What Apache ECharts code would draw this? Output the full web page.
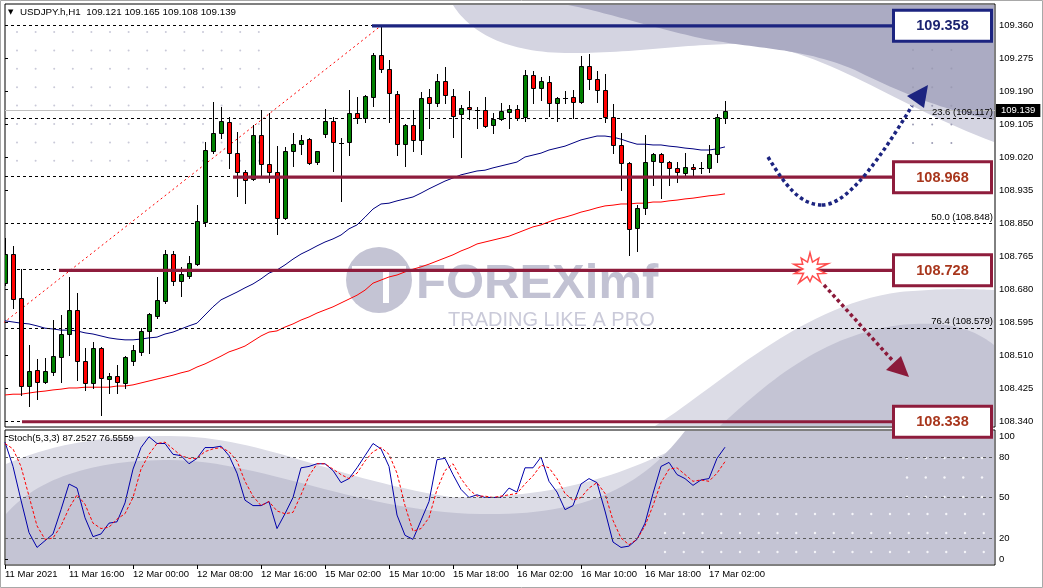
<!DOCTYPE html>
<html>
<head>
<meta charset="utf-8">
<script src="https://cdn.jsdelivr.net/npm/echarts@6.0.0/dist/echarts.min.js"></script>
<style>
html,body{margin:0;padding:0;background:#fff;overflow:hidden}
#chart{width:1043px;height:588px}
</style>
</head>
<body>
<div id="chart"></div>
<script>
// ---------------- DATA ----------------
const headerSymbol = 'USDJPY.h,H1';
const headerOHLC = [109.121, 109.165, 109.108, 109.139];
const timeLabels = ['11 Mar 2021','11 Mar 16:00','12 Mar 00:00','12 Mar 08:00','12 Mar 16:00','15 Mar 02:00','15 Mar 10:00','15 Mar 18:00','16 Mar 02:00','16 Mar 10:00','16 Mar 18:00','17 Mar 02:00'];
const barsPerLabel = 8;

const opens = [108.695,108.770,108.657,108.430,108.471,108.440,108.466,108.505,108.564,108.626,
108.494,108.438,108.528,108.448,108.456,108.438,108.494,108.518,108.572,108.610,
108.649,108.770,108.701,108.713,108.744,108.853,109.035,109.082,109.110,109.030,
108.981,108.963,109.077,109.002,108.981,108.863,109.035,109.053,109.066,109.007,
109.079,109.113,109.056,109.059,109.133,109.120,109.175,109.283,109.247,109.182,
109.053,109.102,109.064,109.175,109.159,109.216,109.177,109.131,109.149,109.141,
109.141,109.102,109.118,109.136,109.144,109.123,109.231,109.198,109.213,109.159,
109.172,109.175,109.162,109.254,109.221,109.193,109.123,109.051,109.005,108.837,
108.889,109.010,109.028,109.007,108.992,108.979,108.994,108.992,108.992,109.028,
109.121];
const highs = [108.811,108.791,108.731,108.536,108.500,108.502,108.600,108.613,108.711,108.670,
108.528,108.543,108.530,108.464,108.484,108.507,108.536,108.580,108.618,108.711,
108.780,108.778,108.737,108.765,108.896,109.059,109.162,109.149,109.123,109.084,
108.987,109.102,109.141,109.133,109.048,109.046,109.082,109.077,109.068,109.036,
109.144,109.123,109.069,109.193,109.175,109.180,109.288,109.358,109.270,109.190,
109.104,109.141,109.187,109.195,109.234,109.252,109.195,109.154,109.190,109.149,
109.175,109.133,109.159,109.154,109.154,109.244,109.242,109.226,109.229,109.175,
109.190,109.193,109.280,109.285,109.242,109.234,109.157,109.082,109.007,108.896,
109.077,109.030,109.030,109.010,109.007,109.030,109.002,109.007,109.051,109.131,
109.165];
const lows = [108.690,108.631,108.407,108.379,108.397,108.438,108.458,108.440,108.510,108.446,
108.420,108.425,108.355,108.412,108.412,108.425,108.484,108.510,108.515,108.605,
108.644,108.690,108.662,108.708,108.742,108.842,109.030,109.069,108.992,108.920,
108.902,108.961,108.968,108.956,108.822,108.860,108.997,109.028,109.003,109.002,
109.071,108.984,108.907,109.025,109.108,109.110,109.151,109.239,109.110,109.025,
108.997,109.035,109.028,109.095,109.151,109.159,109.071,109.020,109.118,109.095,
109.097,109.082,109.116,109.095,109.115,109.113,109.159,109.167,109.126,109.113,
109.159,109.120,109.159,109.195,109.162,109.110,109.030,108.935,108.768,108.778,
108.873,108.948,108.914,108.948,108.956,108.968,108.968,108.979,108.981,109.007,
109.108];
const closes = [108.770,108.654,108.430,108.469,108.440,108.469,108.507,108.564,108.626,108.494,
108.438,108.528,108.451,108.456,108.440,108.505,108.523,108.572,108.616,108.652,
108.770,108.701,108.719,108.747,108.855,109.038,109.082,109.113,109.030,108.981,
108.961,109.077,109.002,108.981,108.863,109.035,109.053,109.064,109.005,109.035,
109.113,109.059,109.056,109.133,109.120,109.177,109.283,109.247,109.185,109.053,
109.102,109.064,109.172,109.159,109.216,109.180,109.126,109.146,109.144,109.141,
109.100,109.118,109.139,109.144,109.120,109.231,109.198,109.216,109.159,109.172,
109.172,109.162,109.254,109.221,109.193,109.123,109.051,109.005,108.835,108.889,
109.007,109.028,109.007,108.992,108.981,108.994,108.989,108.992,109.028,109.123,
109.139];
const maBlue = [108.598,108.595,108.592,108.590,108.585,108.579,108.577,108.574,108.574,108.572,
108.567,108.564,108.559,108.554,108.551,108.549,108.549,108.551,108.554,108.556,
108.564,108.569,108.577,108.585,108.592,108.613,108.634,108.652,108.662,108.672,
108.683,108.693,108.706,108.721,108.729,108.742,108.757,108.770,108.780,108.791,
108.801,108.809,108.819,108.835,108.845,108.865,108.886,108.899,108.901,108.907,
108.912,108.917,108.927,108.938,108.948,108.958,108.966,108.974,108.979,108.984,
108.986,108.992,108.997,109.002,109.007,109.020,109.025,109.030,109.038,109.043,
109.048,109.056,109.064,109.069,109.074,109.074,109.071,109.066,109.059,109.053,
109.053,109.051,109.051,109.048,109.046,109.043,109.041,109.038,109.038,109.041,
109.046];
const maRed = [108.407,108.409,108.409,108.412,108.415,108.417,108.420,108.422,108.425,108.425,
108.427,108.427,108.427,108.427,108.430,108.430,108.433,108.438,108.443,108.448,
108.453,108.458,108.464,108.469,108.479,108.487,108.497,108.507,108.518,108.525,
108.533,108.546,108.559,108.569,108.572,108.582,108.590,108.600,108.608,108.618,
108.626,108.634,108.644,108.654,108.664,108.677,108.695,108.703,108.711,108.716,
108.724,108.731,108.737,108.744,108.752,108.760,108.768,108.778,108.786,108.796,
108.801,108.806,108.811,108.816,108.824,108.832,108.840,108.845,108.853,108.860,
108.865,108.871,108.878,108.883,108.889,108.894,108.896,108.899,108.899,108.901,
108.901,108.904,108.904,108.907,108.909,108.912,108.914,108.917,108.920,108.922,
108.925];
const stochK = [91,73,48,24,13,18,23,41,60,57, 35,21,23,31,32,46,71,87,95,90,
90,82,81,75,79,87,87,88,81,68, 48,44,44,47,27,38,50,72,73,75,
75,70,61,64,72,81,90,86,73,37, 22,19,33,47,78,79,67,56,50,52,
50,50,50,57,54,72,72,80,62,54, 41,44,60,64,61,40,17,13,14,19,
31,53,73,76,67,64,59,63,64,79, 87.25];
const stochD = [90,86,73,51,29,19,20,29,42,52, 45,31,27,28,34,38,50,71,82,90,
91,86,81,79,79,84,86,87,84,77, 62,51,44,47,40,38,39,52,66,75,
75,71,67,64,68,77,84,87,82,68, 44,25,27,35,56,70,75,64,56,51,
51,50,51,52,53,60,66,74,72,64, 53,48,50,57,61,53,33,20,15,19,
29,44,61,71,72,67,62,63,62,68, 76.56];
const stochTitle = 'Stoch(5,3,3)';
const stochLast = [87.2527, 76.5559];
const stochLevels = [20, 50, 80];
const stochTickValues = [4.4, 20, 50, 80, 95.6];
const stochTickLabels = ['0','20','50','80','100'];

const priceTicks = [108.340,108.425,108.510,108.595,108.680,108.765,108.850,108.935,109.020,109.105,109.190,109.275,109.360];
const fibPct = ['0.0','23.6','38.2','50.0','61.8','76.4','100.0'];
const fibPrice = [108.338,109.117,108.968,108.848,108.728,108.579,109.358];
const fibTrendIdx = [-15.9, 47];
const fibTrendPrice = [108.338, 109.358];
const bidPrice = 109.139;
const levelPrice = [109.358, 108.968, 108.728, 108.338];
const levelStartIdx = [45.875, 28.5, 6.75, 2.125];
const levelEndIdx = 110.875;

// ---------------- STYLE ----------------
const FONT = 'Liberation Sans';
const X_MAX = 123.75;
const NAVY = '#1c2480';
const MAROON = '#8e1c3c';
const levelColor = [NAVY, MAROON, MAROON, MAROON];
const levelText = ['#1c2470', '#a8361c', '#a8361c', '#a8361c'];

const chart = echarts.init(document.getElementById('chart'), null, {renderer:'canvas'});

function renderCandle(params, api) {
  const i = api.value(0);
  const o = api.coord([i, api.value(1)]);
  const c = api.coord([i, api.value(2)]);
  const l = api.coord([i, api.value(3)]);
  const h = api.coord([i, api.value(4)]);
  const cx = Math.round(o[0]);
  const yTop = Math.round(Math.min(o[1], c[1]));
  const yBot = Math.round(Math.max(o[1], c[1]));
  const up = api.value(2) >= api.value(1);
  const children = [{type:'line', shape:{x1:cx+0.5, y1:Math.round(h[1]), x2:cx+0.5, y2:Math.round(l[1])+1}, style:{stroke:'#000', lineWidth:1}}];
  if (yBot - yTop < 1) {
    children.push({type:'line', shape:{x1:cx-2, y1:yTop+0.5, x2:cx+3, y2:yTop+0.5}, style:{stroke:'#000', lineWidth:1}});
  } else {
    children.push({type:'rect', shape:{x:cx-1.5, y:yTop+0.5, width:4, height:yBot-yTop}, style:{fill: up ? '#008000' : '#ff0000', stroke:'#000', lineWidth:1}});
  }
  return {type:'group', children};
}

function lineSeries(xi, yi, data, color, width, type, z, extra) {
  return Object.assign({
    type:'line', xAxisIndex:xi, yAxisIndex:yi, data, symbol:'none', showSymbol:false,
    lineStyle:{color, width, type}, itemStyle:{color}, z, silent:true, clip:true,
    emphasis:{disabled:true}
  }, extra || {});
}

const candleData = opens.map((o, i) => [i, o, closes[i], lows[i], highs[i]]);
const tickIdx = timeLabels.map((_, k) => k * barsPerLabel);

const fibMarks = fibPrice.map((p, i) => ({
  yAxis: p,
  lineStyle: {color:'#000', type:[3,3], width:1},
  label: {show:true, position:'insideEndTop', formatter: fibPct[i] + ' (' + p.toFixed(3) + ')',
          color:'#000', fontSize:9.5, fontFamily:FONT, distance:[2,1]}
}));
const bidMark = {
  yAxis: bidPrice,
  lineStyle: {color:'#c0c0c0', type:'solid', width:1},
  label: {show:true, position:'end', formatter: bidPrice.toFixed(3), color:'#fff', backgroundColor:'#000',
          padding:[2,5,1,5], fontSize:9.5, fontFamily:FONT, distance:1}
};

const series = [
  lineSeries(0, 0, maRed.map((v, i) => [i, v]), '#ff0000', 1, 'solid', 3,
    {markLine:{silent:true, symbol:['none','none'], animation:false, data:[bidMark]}}),
  lineSeries(0, 0, maBlue.map((v, i) => [i, v]), '#000080', 1, 'solid', 3,
    {markLine:{silent:true, symbol:['none','none'], animation:false, data:fibMarks}}),
  lineSeries(0, 0, fibTrendIdx.map((x, k) => [x, fibTrendPrice[k]]), '#ff0000', 1, [2,3], 3),
  {type:'custom', xAxisIndex:0, yAxisIndex:0, data:candleData, encode:{x:0, y:[1,2,3,4]},
   renderItem:renderCandle, clip:true, z:5, silent:true},
];
levelPrice.forEach((p, k) => {
  series.push(lineSeries(0, 0, [[levelStartIdx[k], p], [levelEndIdx, p]], levelColor[k], 3.2, 'solid', 6));
});
series.push(lineSeries(1, 1, stochK.map((v, i) => [i, v]), '#0000aa', 1, 'solid', 4,
  {markLine:{silent:true, symbol:['none','none'], animation:false, label:{show:false},
    lineStyle:{color:'#5a5a5a', type:[3,3], width:1}, data: stochLevels.map(v => ({yAxis:v}))}}));
series.push(lineSeries(1, 1, stochD.map((v, i) => [i, v]), '#ff0000', 1, [3,2], 4));

const option = {
  backgroundColor:'#ffffff',
  animation:false,
  textStyle:{fontFamily:FONT},
  grid:[
    {left:5, top:4, width:990, height:423, show:true, borderColor:'#000', borderWidth:1},
    {left:5, top:430, width:990, height:135, show:true, borderColor:'#000', borderWidth:1}
  ],
  xAxis:[
    {type:'value', gridIndex:0, min:0, max:X_MAX, show:false},
    {type:'value', gridIndex:1, min:0, max:X_MAX, axisLine:{show:false}, splitLine:{show:false},
     axisTick:{show:true, customValues:tickIdx, length:4, lineStyle:{color:'#000'}},
     axisLabel:{customValues:tickIdx, formatter:v => timeLabels[Math.round(v / barsPerLabel)] || '',
                align:'left', margin:4, fontSize:9.5, color:'#000', fontFamily:FONT}}
  ],
  yAxis:[
    {type:'value', gridIndex:0, position:'right', min:108.3245, max:109.4141, scale:true,
     axisLine:{show:false}, splitLine:{show:false},
     axisTick:{show:true, customValues:priceTicks, length:3, lineStyle:{color:'#000'}},
     axisLabel:{customValues:priceTicks, formatter:v => v.toFixed(3), margin:4, fontSize:9.5, color:'#000', fontFamily:FONT}},
    {type:'value', gridIndex:1, position:'right', min:0, max:100,
     axisLine:{show:false}, splitLine:{show:false},
     axisTick:{show:true, customValues:stochTickValues, length:3, lineStyle:{color:'#000'}},
     axisLabel:{customValues:stochTickValues, formatter:v => stochTickLabels[stochTickValues.indexOf(v)] || '',
                margin:4, fontSize:9.5, color:'#000', fontFamily:FONT}}
  ],
  series
};
chart.setOption(option);

// ---------------- DECORATION (graphic) ----------------
function bez(p0, p1, p2, p3, n) {
  const pts = [];
  for (let k = 1; k <= n; k++) {
    const t = k / n, u = 1 - t;
    pts.push([u*u*u*p0[0] + 3*u*u*t*p1[0] + 3*u*t*t*p2[0] + t*t*t*p3[0],
              u*u*u*p0[1] + 3*u*u*t*p1[1] + 3*u*t*t*p2[1] + t*t*t*p3[1]]);
  }
  return pts;
}
function shapePts(start, segs, tail) {
  let pts = [start], cur = start;
  segs.forEach(s => { pts = pts.concat(bez(cur, s[0], s[1], s[2], 30)); cur = s[2]; });
  return pts.concat(tail);
}
function poly(points, fill, z) {
  return {type:'polygon', shape:{points}, style:{fill}, z:z || 0, silent:true};
}
const G = [];
G.push(poly(shapePts([453,5], [[[470,32],[505,52],[565,53]], [[630,54],[690,43],[745,44]], [[820,46],[900,108],[994,142]]], [[994,5]]), '#d4d4e1'));
G.push(poly(shapePts([568,5], [[[605,12],[650,27],[700,38]], [[760,50],[800,47],[855,70]], [[905,95],[950,112],[994,120]]], [[994,5]]), '#ababc3'));
G.push(poly(shapePts([655,426], [[[720,385],[800,305],[900,292]], [[945,288],[970,289],[994,290]]], [[994,426]]), '#dcdce6'));
G.push(poly(shapePts([720,426], [[[765,385],[820,335],[900,325]], [[950,320],[975,330],[994,345]]], [[994,426]]), '#c4c4d4'));
G.push(poly(shapePts([6,464], [[[60,441],[110,436],[170,436]], [[260,436],[330,478],[450,497]], [[560,500],[640,470],[707,431]]], [[994,431],[994,564],[6,564]]), '#dcdce6'));
G.push(poly(shapePts([6,514], [[[40,475],[100,460],[170,460]], [[260,460],[360,512],[480,514]], [[580,516],[640,490],[685,431]]], [[994,431],[994,564],[6,564]]), '#c4c4d4'));

// dot patterns
for (let cx = 17; cx <= 260; cx += 18.6) for (let cy = 32; cy <= 162; cy += 18.4)
  G.push({type:'circle', shape:{cx, cy, r:1}, style:{fill:'#c9c9d8'}, z:0, silent:true});
for (let cx = 913; cx <= 955; cx += 19.2) for (let cy = 50; cy <= 145; cy += 18.6)
  G.push({type:'circle', shape:{cx, cy, r:1}, style:{fill:'#9c9cb4'}, z:0, silent:true});
for (let cx = 665; cx <= 984; cx += 18.75) for (let cy = 514; cy <= 553; cy += 19)
  G.push({type:'circle', shape:{cx, cy, r:1.2}, style:{fill:'#f4f4f8'}, z:0, silent:true});
for (let cx = 907; cx <= 984; cx += 18.75) for (let cy = 458; cy <= 498; cy += 19.5)
  G.push({type:'circle', shape:{cx, cy, r:1.2}, style:{fill:'#f4f4f8'}, z:0, silent:true});

// watermark logo
G.push({type:'circle', shape:{cx:379, cy:280, r:33}, style:{fill:'#c4c4d4'}, z:1, silent:true});
G.push({type:'rect', shape:{x:352, y:266, width:54, height:6}, style:{fill:'#ffffff'}, z:1, silent:true});
G.push({type:'rect', shape:{x:383, y:272, width:6, height:31}, style:{fill:'#ffffff'}, z:1, silent:true});
G.push({type:'text', x:416, y:284, style:{text:'FOREXimf', fontFamily:FONT, fontWeight:'bold', fontSize:49, fill:'#c2c2d3', verticalAlign:'middle'}, z:1, silent:true});
G.push({type:'text', x:448, y:320, style:{text:'TRADING LIKE A PRO', fontFamily:FONT, fontSize:20, fill:'#cacad9', verticalAlign:'middle'}, z:1, silent:true});

// header and indicator title
G.push({type:'text', x:8, y:12.5, style:{text:'\u25BC', fontFamily:'DejaVu Sans', fontSize:7, fill:'#000', verticalAlign:'middle'}, z:100, silent:true});
G.push({type:'text', x:20, y:12.5, style:{text: headerSymbol + '  ' + headerOHLC.map(v => v.toFixed(3)).join(' '), fontFamily:FONT, fontSize:9.8, fill:'#000', verticalAlign:'middle'}, z:100, silent:true});
G.push({type:'text', x:8, y:438, style:{text: stochTitle + ' ' + stochLast.map(v => v.toFixed(4)).join(' '), fontFamily:FONT, fontSize:9.5, fill:'#000', verticalAlign:'middle'}, z:100, silent:true});

// level boxes
levelPrice.forEach((p, k) => {
  const y = chart.convertToPixel({yAxisIndex:0}, p);
  G.push({type:'rect', shape:{x:893.5, y:y - 15.5, width:98, height:31}, style:{fill:'#fff', stroke:levelColor[k], lineWidth:3}, z:100, silent:true});
  G.push({type:'text', x:942.5, y:y + 0.5, style:{text:p.toFixed(3), fontFamily:FONT, fontWeight:'bold', fontSize:14.5, fill:levelText[k], align:'center', verticalAlign:'middle'}, z:101, silent:true});
});

// scenario arrows
const dotStyle = (c) => ({stroke:c, lineWidth:3.5, lineDash:[3.5,3], fill:null});
G.push({type:'bezierCurve', shape:{x1:768, y1:157, cpx1:785, cpy1:185, cpx2:800, cpy2:205, x2:822, y2:205}, style:dotStyle(NAVY), z:100, silent:true});
G.push({type:'bezierCurve', shape:{x1:822, y1:205, cpx1:850, cpy1:205, cpx2:885, cpy2:150, x2:912, y2:106}, style:dotStyle(NAVY), z:100, silent:true});
G.push({type:'polygon', shape:{points:[[928,85],[907,96],[924,108]]}, style:{fill:NAVY}, z:100, silent:true});
G.push({type:'line', shape:{x1:824, y1:285, x2:893, y2:361}, style:dotStyle('#8b1a3a'), z:100, silent:true});
G.push({type:'polygon', shape:{points:[[909,377],[886,370],[901,356]]}, style:{fill:'#8b1a3a'}, z:100, silent:true});
const starR = [18,8,15,9,19,7,16,9,18,8,14,9,19,8,16,7,17,9,15,8];
const starPts = starR.map((r, k) => {
  const a = -Math.PI / 2 + k * 2 * Math.PI / starR.length;
  return [810 + r * Math.cos(a), 269 + r * 0.9 * Math.sin(a)];
});
G.push({type:'polygon', shape:{points:starPts}, style:{fill:'#fff', stroke:'#ff4d4d', lineWidth:1.5}, z:100, silent:true});

// outer window frame
G.push({type:'rect', shape:{x:0.5, y:0.5, width:1042, height:587}, style:{fill:null, stroke:'#a8a8a8', lineWidth:1}, z:100, silent:true});

chart.setOption({graphic:{elements:G}});
</script>
</body>
</html>
